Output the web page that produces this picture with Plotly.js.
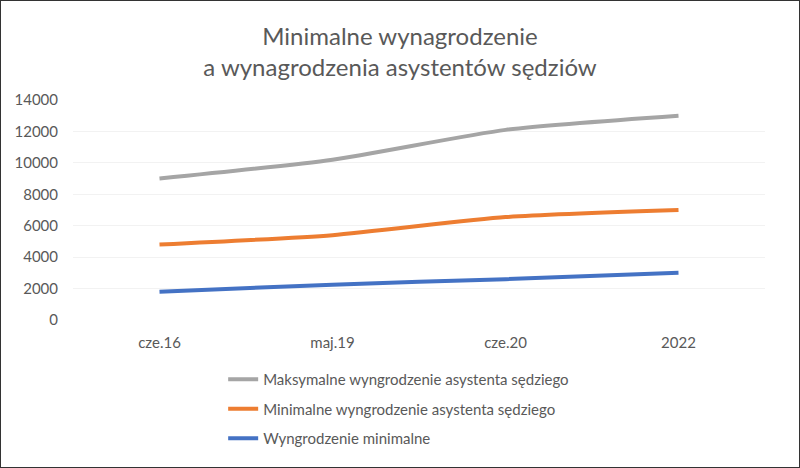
<!DOCTYPE html>
<html>
<head>
<meta charset="utf-8">
<script src="https://cdn.plot.ly/plotly-3.0.1.min.js"></script>
<style>
  html, body { margin: 0; padding: 0; background: #fff; }
  #chart { width: 800px; height: 468px; box-sizing: border-box; border: 1px solid #333; }
</style>
</head>
<body>
<div id="chart"></div>
<script>
const categories = ['cze.16', 'maj.19', 'cze.20', '2022'];
const maxAssistant = [9000, 10200, 12100, 13000];
const minAssistant = [4800, 5400, 6550, 7000];
const minWage = [1800, 2250, 2600, 3010];
const seriesNames = [
  'Maksymalne wyngrodzenie asystenta sędziego',
  'Minimalne wyngrodzenie asystenta sędziego',
  'Wyngrodzenie minimalne'
];

function line(y, name, color, group) {
  return { x: categories, y: y, name: name, type: 'scatter', mode: 'lines',
    legendgroup: group,
    line: { color: color, width: 4, shape: 'spline', smoothing: 0.6 } };
}

const traces = [
  line(maxAssistant, seriesNames[0], '#a5a5a5', 'a'),
  line(minAssistant, seriesNames[1], '#ed7d31', 'b'),
  line(minWage, seriesNames[2], '#4472c4', 'c')
];

const layout = {
  width: 798, height: 466,
  margin: { l: 72, r: 34, t: 99, b: 147 },
  paper_bgcolor: '#fff', plot_bgcolor: '#fff',
  font: { family: 'Lato, "Open Sans", sans-serif', color: '#595959', size: 15 },
  title: { text: 'Minimalne wynagrodzenie<br>a wynagrodzenia asystentów sędziów',
    font: { size: 24, color: '#595959' }, x: 0.5, xanchor: 'center', y: 0.905, yanchor: 'top' },
  xaxis: { type: 'category', range: [-0.5, 3.5], showgrid: false, zeroline: false, showline: false,
    ticks: '', ticklabelstandoff: 12, tickfont: { size: 15 } },
  yaxis: { range: [0, 14000], dtick: 2000, showgrid: true, gridcolor: '#f2f2f2',
    zeroline: false, showline: false, ticks: '', ticklabelstandoff: 14, tickformat: 'd',
    tickfont: { size: 15 } },
  showlegend: true,
  legend: { orientation: 'v', x: 0.217, xanchor: 'left', y: -0.195, yanchor: 'top',
    traceorder: 'grouped', tracegroupgap: 7, font: { size: 15, color: '#595959' } }
};

Plotly.newPlot('chart', traces, layout, { displayModeBar: false, staticPlot: true });
</script>
</body>
</html>
